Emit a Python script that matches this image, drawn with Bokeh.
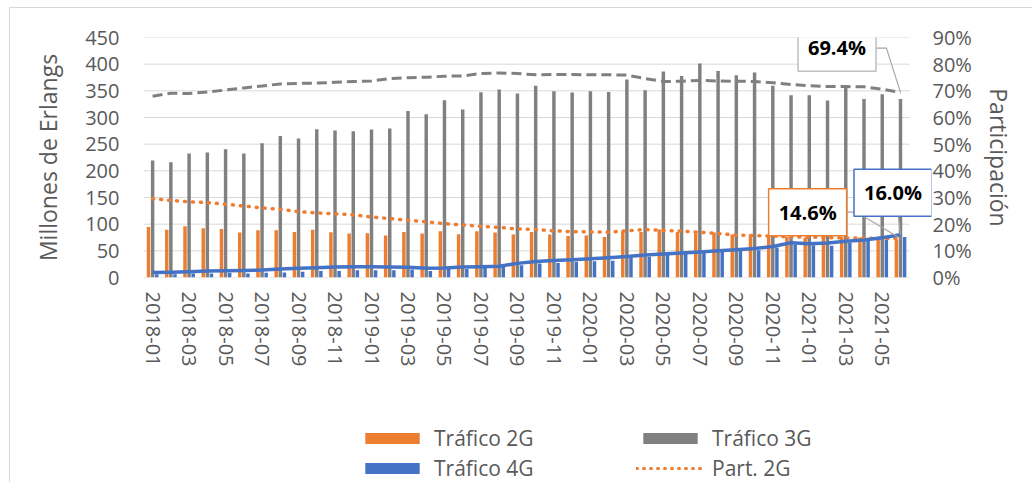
from bokeh.plotting import figure
from bokeh.layouts import column
from bokeh.models import (ColumnDataSource, Range1d, LinearAxis, FixedTicker,
                          PrintfTickFormatter, Legend, LegendItem, Label)
from bokeh.transform import dodge
from bokeh.embed import file_html
from bokeh.resources import INLINE

months = ["2018-01", "2018-02", "2018-03", "2018-04", "2018-05", "2018-06",
          "2018-07", "2018-08", "2018-09", "2018-10", "2018-11", "2018-12",
          "2019-01", "2019-02", "2019-03", "2019-04", "2019-05", "2019-06",
          "2019-07", "2019-08", "2019-09", "2019-10", "2019-11", "2019-12",
          "2020-01", "2020-02", "2020-03", "2020-04", "2020-05", "2020-06",
          "2020-07", "2020-08", "2020-09", "2020-10", "2020-11", "2020-12",
          "2021-01", "2021-02", "2021-03", "2021-04", "2021-05", "2021-06"]

# Millones de Erlangs
trafico_2g = [94.9, 89.3, 96.2, 92.4, 91.1, 84.4, 88.7, 88.7, 85.5, 89.3,
              84.9, 82.5, 83.1, 78.8, 85.5, 82.5, 86.8, 81.2, 86.8, 84.4,
              80.6, 85.5, 80.6, 78.0, 78.8, 76.1, 86.8, 85.5, 90.0, 85.5,
              86.8, 84.4, 80.6, 80.6, 78.0, 76.1, 74.3, 74.3, 76.1, 75.0,
              75.0, 71.3]
trafico_3g = [219.4, 216.2, 232.5, 234.4, 240.6, 232.5, 251.8, 265.5, 260.6, 278.1,
              275.6, 274.3, 277.5, 279.4, 312.4, 306.2, 332.4, 315.0, 347.4, 352.5,
              345.0, 359.3, 349.3, 346.9, 349.3, 348.0, 371.3, 351.2, 386.3, 378.0,
              401.3, 387.4, 379.3, 384.4, 359.3, 341.8, 341.8, 331.9, 360.6, 334.9,
              343.7, 334.9]
trafico_4g = [6.0, 6.0, 7.5, 7.5, 8.7, 7.5, 8.7, 9.4, 10.6, 12.4,
              12.4, 13.7, 13.7, 13.7, 15.0, 12.4, 16.9, 16.0, 18.0, 19.9,
              23.0, 26.2, 27.4, 29.3, 30.6, 31.2, 37.5, 38.7, 43.1, 45.0,
              46.9, 51.2, 53.1, 51.2, 56.2, 61.9, 60.6, 59.3, 65.0, 68.7,
              71.3, 76.1]

# Participación (%)
part_2g = [29.6, 28.9, 28.4, 28.1, 27.5, 26.8, 26.1, 25.6, 24.7, 24.2,
           23.9, 23.5, 22.7, 22.1, 21.5, 20.9, 20.2, 19.7, 19.2, 18.8,
           18.2, 18.0, 17.5, 17.2, 17.1, 17.0, 17.5, 18.0, 17.7, 17.4,
           17.0, 16.5, 15.9, 15.7, 15.5, 15.2, 15.1, 15.0, 14.8, 14.8,
           14.7, 14.6]
part_3g = [68.0, 69.1, 69.0, 69.6, 70.3, 71.1, 71.8, 72.6, 72.8, 72.9,
           73.2, 73.5, 73.7, 74.6, 74.9, 75.1, 75.5, 75.6, 76.5, 76.7,
           76.5, 76.0, 76.1, 76.1, 76.0, 76.0, 75.9, 74.6, 73.5, 73.6,
           73.9, 73.7, 73.6, 73.5, 73.0, 72.4, 71.9, 71.6, 71.6, 71.5,
           70.6, 69.4]
part_4g = [1.9, 2.0, 2.2, 2.4, 2.5, 2.6, 2.8, 3.2, 3.5, 3.7,
           3.9, 4.0, 4.0, 3.9, 3.8, 3.5, 3.6, 3.9, 4.0, 4.2,
           5.3, 6.0, 6.4, 6.7, 7.0, 7.4, 7.9, 8.4, 8.8, 9.2,
           9.6, 10.0, 10.4, 10.9, 11.6, 13.0, 12.7, 12.9, 13.6, 14.1,
           14.9, 16.0]

left_ticks = [0, 50, 100, 150, 200, 250, 300, 350, 400, 450]
right_ticks = [0, 10, 20, 30, 40, 50, 60, 70, 80, 90]

FONT = "Open Sans"
TXT = "#595959"
C2G = "#ED7D31"
C3G = "#808080"
C4G = "#4472C4"
GRID = "#D9D9D9"

idx = list(range(len(months)))
x_lo, x_hi = -0.5, len(months) - 0.5
src = ColumnDataSource(dict(x=idx, t2=trafico_2g, t3=trafico_3g, t4=trafico_4g,
                            p2=part_2g, p3=part_3g, p4=part_4g))

W = 1022
# frame is widened to the right (empty room for the callout boxes)
p = figure(width=W, height=420,
           x_range=Range1d(x_lo, x_hi + 1.2),
           y_range=Range1d(left_ticks[0], left_ticks[-1]),
           output_backend="svg", toolbar_location=None,
           min_border_left=133, min_border_right=101,
           min_border_top=29, min_border_bottom=151,
           outline_line_color=None)
p.extra_y_ranges = {"pct": Range1d(right_ticks[0], right_ticks[-1])}

# gridlines drawn over the category span only
p.xgrid.visible = False
p.ygrid.visible = False
p.segment(x0=[x_lo] * len(left_ticks), x1=[x_hi] * len(left_ticks),
          y0=left_ticks, y1=left_ticks, line_color=GRID, line_width=1)

# x axis
xa = p.xaxis[0]
xa.ticker = FixedTicker(ticks=idx[::2])
xa.major_label_overrides = {i: months[i] for i in idx[::2]}
xa.major_label_orientation = "vertical"
xa.major_label_text_font = FONT
xa.major_label_text_font_size = "20px"
xa.major_label_text_color = TXT
xa.axis_line_color = None
xa.major_tick_line_color = None
xa.minor_tick_line_color = None
xa.major_tick_out = 0
xa.major_tick_in = 0
xa.major_label_standoff = 14

# left axis
ya = p.yaxis[0]
ya.ticker = FixedTicker(ticks=left_ticks)
ya.axis_label = "Millones de Erlangs"

ra = LinearAxis(y_range_name="pct", ticker=FixedTicker(ticks=right_ticks),
                formatter=PrintfTickFormatter(format="%d%%"),
                axis_label="Participación")
p.add_layout(ra, "right")

for ax, so, lso in ((ya, 24, 18), (ra, 1, 8)):
    ax.major_label_text_font = FONT
    ax.major_label_text_font_size = "20px"
    ax.major_label_text_color = TXT
    ax.axis_label_text_font = FONT
    ax.axis_label_text_font_size = "23px"
    ax.axis_label_text_font_style = "normal"
    ax.axis_label_text_color = TXT
    ax.axis_line_color = None
    ax.major_tick_line_color = None
    ax.minor_tick_line_color = None
    ax.major_tick_out = 0
    ax.major_tick_in = 0
    ax.major_label_standoff = so
    ax.axis_label_standoff = lso

# bars
bw = 0.19
off = 0.225
bar_styles = [("t2", -off, C2G), ("t3", 0, C3G), ("t4", off, C4G)]
for col, o, c in bar_styles:
    p.vbar(x=dodge("x", o), top=col, width=bw, source=src,
           fill_color=c, line_color=None)

# participation lines
p.line("x", "p3", source=src, y_range_name="pct", line_color=C3G,
       line_width=3, line_dash="10 5")
p.line("x", "p2", source=src, y_range_name="pct", line_color=C2G,
       line_width=3.5, line_dash="1 7", line_cap="round")
p.line("x", "p4", source=src, y_range_name="pct", line_color=C4G,
       line_width=3.5, line_join="round")

# callouts
last = idx[-1]
LEAD = "#A6A6A6"
p.line([39.63, 40.23, last], [86.0, 86.0, part_3g[-1]], y_range_name="pct",
       line_color=LEAD, line_width=1.2)
p.line([38.04, 38.6, last], [24.5, 24.5, part_2g[-1]], y_range_name="pct",
       line_color=LEAD, line_width=1.2)
p.line([40.85, last], [24.9, part_4g[-1]], y_range_name="pct",
       line_color=LEAD, line_width=1.2)

def callout(x, y, txt, col):
    lab = Label(x=x, y=y, y_range_name="pct", text=txt,
                text_font=FONT, text_font_style="bold", text_font_size="20px",
                text_color="black", text_align="center", text_baseline="middle",
                background_fill_color="white", border_line_color=col,
                border_line_width=1.5, padding=10)
    p.add_layout(lab)

callout(37.52, 86.2, "%.1f%%" % part_3g[-1], "#BFBFBF")
callout(35.91, 24.5, "%.1f%%" % part_2g[-1], C2G)
callout(40.59, 31.8, "%.1f%%" % part_4g[-1], C4G)

# legend strip under the chart (its frame lines up with the chart frame)
LH = 54
pl = figure(width=W, height=LH, x_range=Range1d(0, 1), y_range=Range1d(0, 1),
            output_backend="svg", toolbar_location=None,
            min_border_left=0, min_border_right=0, min_border_top=0,
            min_border_bottom=0, outline_line_color=None)
pl.axis.visible = False
pl.grid.visible = False
# legend proxies: one point each, outside the visible range
k2 = pl.vbar(x=[-10], top=[0], width=1, fill_color=C2G, line_color=None)
k3 = pl.vbar(x=[-10], top=[0], width=1, fill_color=C3G, line_color=None)
k4 = pl.vbar(x=[-10], top=[0], width=1, fill_color=C4G, line_color=None)
kp2 = pl.line(x=[-10, -9], y=[0, 0], line_color=C2G, line_width=3,
              line_dash="1 6", line_cap="round")
legend = Legend(items=[LegendItem(label="Tráfico 2G", renderers=[k2]),
                       LegendItem(label="Tráfico 3G", renderers=[k3]),
                       LegendItem(label="Tráfico 4G", renderers=[k4]),
                       LegendItem(label="Part. 2G", renderers=[kp2])],
                location=(215, 0), orientation="horizontal", ncols=2,
                glyph_width=68, glyph_height=14, label_standoff=8,
                label_width=200, label_height=26, spacing=2,
                padding=0, margin=0,
                label_text_font=FONT, label_text_font_size="21px",
                label_text_color=TXT, border_line_color=None,
                background_fill_alpha=0)
pl.add_layout(legend, "center")

root = column(p, pl, spacing=0,
              styles={"margin": "7px 0px 0px 9px",
                      "border-top": "1px solid #D9D9D9",
                      "border-left": "1px solid #D9D9D9"})

open("out.html", "w").write(file_html(root, INLINE))
